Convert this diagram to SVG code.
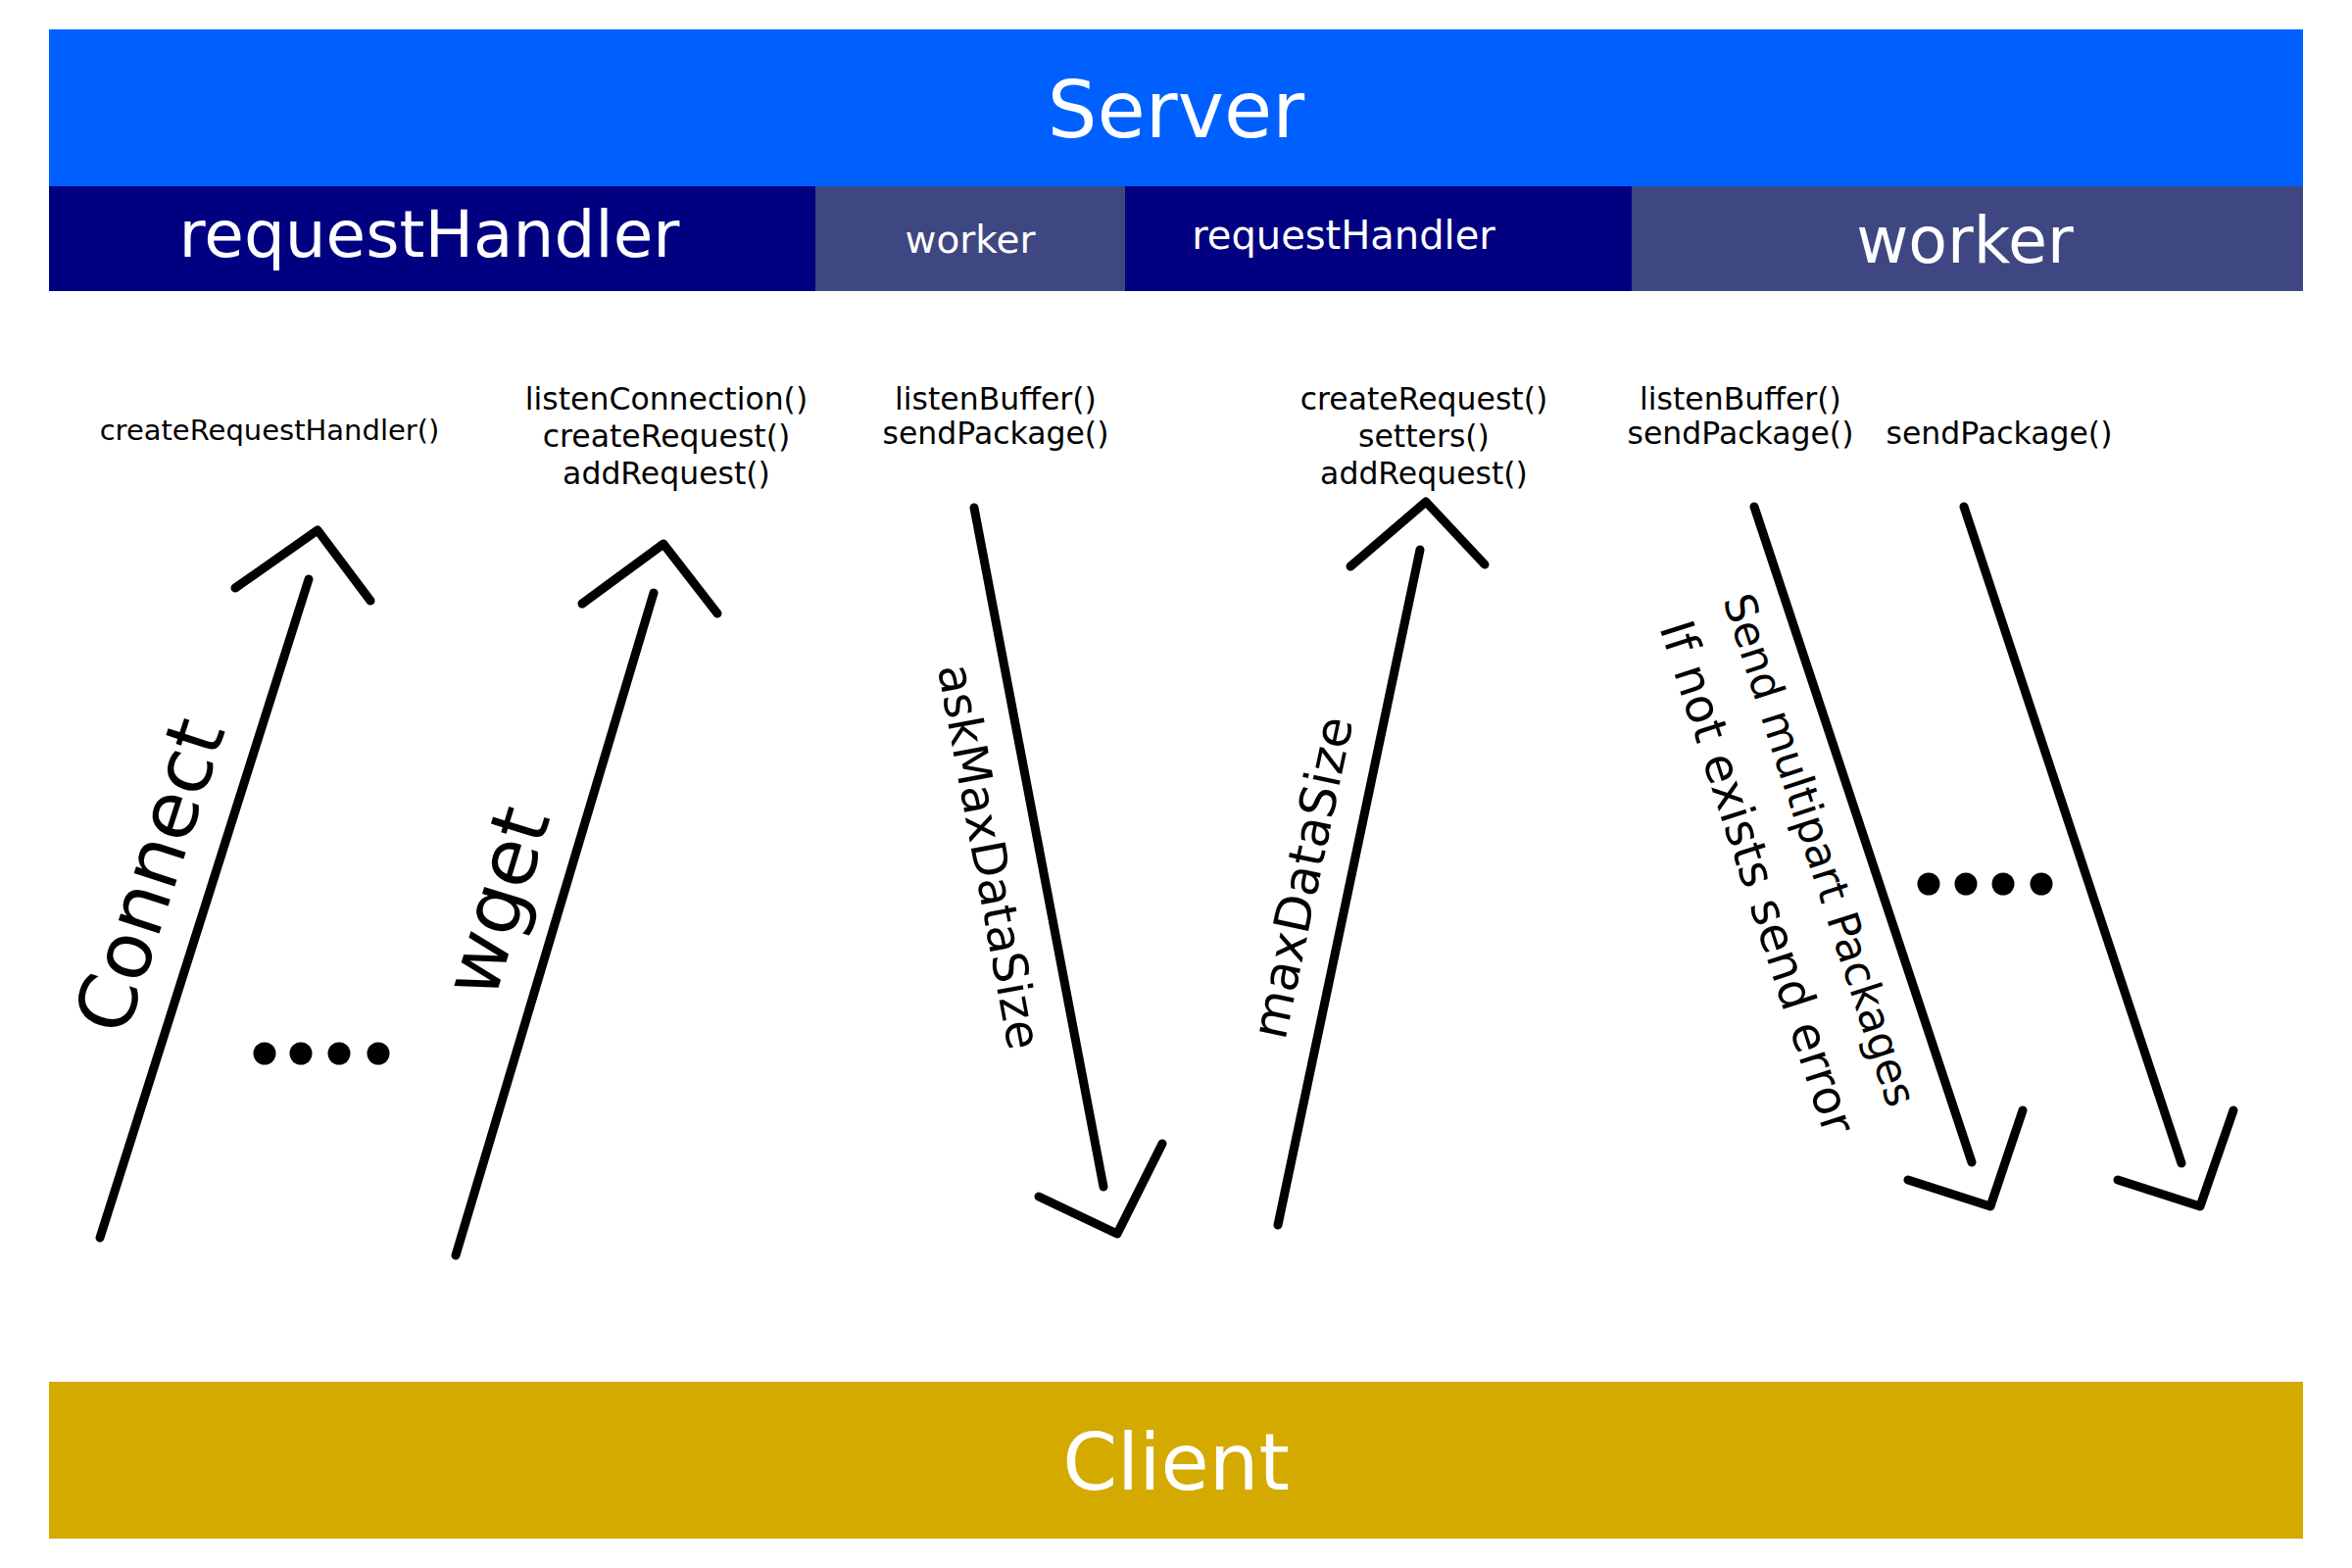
<svg xmlns="http://www.w3.org/2000/svg" width="2400" height="1600" viewBox="0 0 2400 1600">
<style>
  text { font-family: "DejaVu Sans", "Liberation Sans", sans-serif; }
  .hdr { fill: #ffffff; text-anchor: middle; }
  .lbl { fill: #000000; text-anchor: middle; font-size: 31.5px; }
  .arr { fill: none; stroke: #000000; stroke-width: 9; stroke-linecap: round; stroke-linejoin: round; }
  .dot { fill: #000000; }
  .rt { fill: #000000; }
</style>
<rect x="0" y="0" width="2400" height="1600" fill="#ffffff"/>
<g id="server">
  <rect x="50" y="30" width="2300" height="160" fill="#0060ff"/>
  <text class="hdr" x="1200" y="140" font-size="80">Server</text>
</g>
<g id="requestHandler1">
  <rect x="50" y="190" width="782" height="107" fill="#000080"/>
  <text class="hdr" x="438" y="262" font-size="66">requestHandler</text>
</g>
<g id="worker1">
  <rect x="832" y="190" width="316" height="107" fill="#3e4782"/>
  <text class="hdr" x="990" y="258" font-size="39">worker</text>
</g>
<g id="requestHandler2">
  <rect x="1148" y="190" width="517" height="107" fill="#000080"/>
  <text class="hdr" x="1371" y="254" font-size="40">requestHandler</text>
</g>
<g id="worker2">
  <rect x="1665" y="190" width="685" height="107" fill="#3e4782"/>
  <text class="hdr" x="2005" y="268" font-size="65">worker</text>
</g>
<g id="client">
  <rect x="50" y="1410" width="2300" height="160" fill="#d4aa00"/>
  <text class="hdr" x="1200" y="1520" font-size="80">Client</text>
</g>
<g id="labels">
  <text class="lbl" x="275" y="449" style="font-size:29px">createRequestHandler()</text>
  <text class="lbl" x="680" y="418">listenConnection()</text>
  <text class="lbl" x="680" y="456">createRequest()</text>
  <text class="lbl" x="680" y="494">addRequest()</text>
  <text class="lbl" x="1016" y="418">listenBuffer()</text>
  <text class="lbl" x="1016" y="453">sendPackage()</text>
  <text class="lbl" x="1453" y="418">createRequest()</text>
  <text class="lbl" x="1453" y="456">setters()</text>
  <text class="lbl" x="1453" y="494">addRequest()</text>
  <text class="lbl" x="1776" y="418">listenBuffer()</text>
  <text class="lbl" x="1776" y="453">sendPackage()</text>
  <text class="lbl" x="2040" y="453">sendPackage()</text>
</g>
<g id="connectors">
  <path class="arr" d="M102,1263 L315,591"/>
  <path class="arr" d="M240,600 L324,541 L378,613"/>
  <path class="arr" d="M465,1281 L667,605"/>
  <path class="arr" d="M594,616 L677,555 L732,626"/>
  <path class="arr" d="M994,518 L1126,1211"/>
  <path class="arr" d="M1060,1221 L1140,1259 L1186,1167"/>
  <path class="arr" d="M1304,1250 L1449,561"/>
  <path class="arr" d="M1378,578 L1455,512 L1515,576"/>
  <path class="arr" d="M1790,517 L2012,1186"/>
  <path class="arr" d="M1947,1204 L2031,1231 L2064,1133"/>
  <path class="arr" d="M2004,517 L2226,1187"/>
  <path class="arr" d="M2161,1204 L2245,1231 L2279,1133"/>
</g>
<g id="connector-labels">
  <text class="rt" text-anchor="middle" font-size="80" transform="translate(179,902) rotate(-72)">Connect</text>
  <text class="rt" text-anchor="middle" font-size="80" transform="translate(533,928) rotate(-73)">wget</text>
  <text class="rt" text-anchor="middle" font-size="48.5" transform="translate(993,877) rotate(79.5)">askMaxDataSize</text>
  <text class="rt" text-anchor="middle" font-size="50.5" transform="translate(1346,899) rotate(-78)">maxDataSize</text>
  <text class="rt" text-anchor="start" font-size="44" transform="translate(1758,612) rotate(72)">Send multipart Packages</text>
  <text class="rt" text-anchor="start" font-size="48.5" transform="translate(1693,640) rotate(72)">If not exists send error</text>
</g>
<g id="dots">
  <circle class="dot" cx="270" cy="1075" r="11.5"/>
  <circle class="dot" cx="307" cy="1075" r="11.5"/>
  <circle class="dot" cx="346" cy="1075" r="11.5"/>
  <circle class="dot" cx="386" cy="1075" r="11.5"/>
  <circle class="dot" cx="1968" cy="902" r="11.5"/>
  <circle class="dot" cx="2006" cy="902" r="11.5"/>
  <circle class="dot" cx="2044" cy="902" r="11.5"/>
  <circle class="dot" cx="2083" cy="902" r="11.5"/>
</g>
</svg>
